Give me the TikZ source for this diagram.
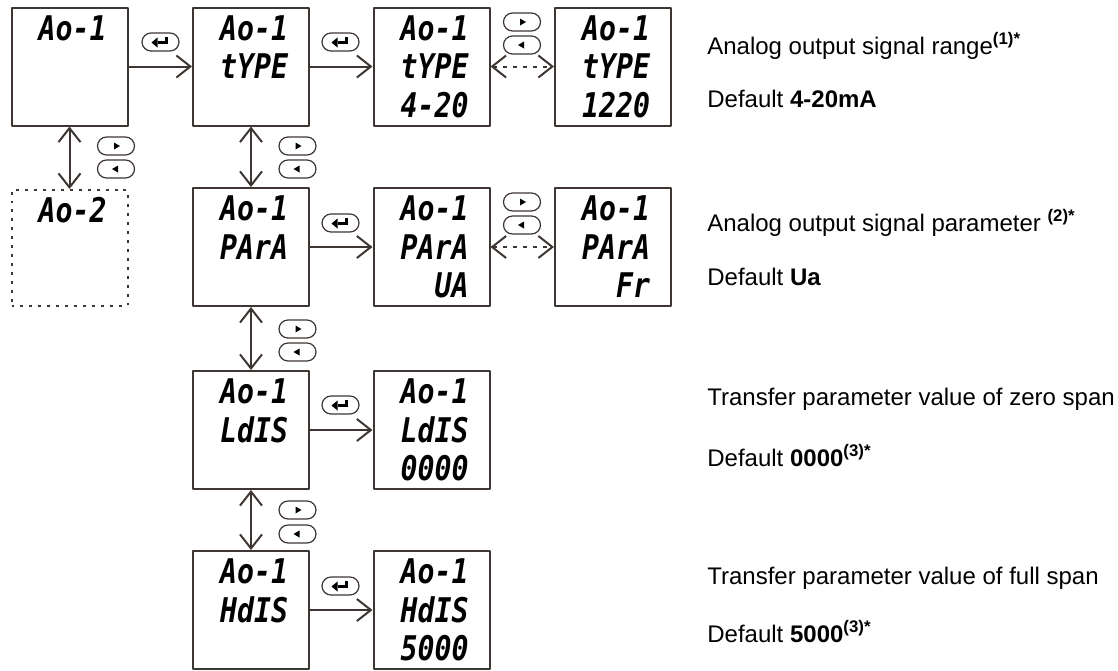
\documentclass[tikz,border=0pt]{standalone}
\usepackage{fontspec}
\setmainfont{Liberation Sans}
\newfontfamily\lcdfont{DejaVu Sans Mono}[FakeStretch=0.83]
\usetikzlibrary{arrows.meta,shapes.misc}
\newdimen\pxu \pxu=0.2mm
\definecolor{frame}{RGB}{62,54,50}
\newcommand\lcd[1]{\parbox[c][118\pxu][t]{74\pxu}{\raggedleft\lcdfont\bfseries\itshape\fontsize{19.35}{21.9}\selectfont\vspace*{8\pxu}#1}}
\begin{document}
\begin{tikzpicture}[x=0.2mm,y=-0.2mm,line join=round,
 >={Straight Barb[length=2.8mm,width=4.4mm]},
 lcdbox/.style={draw=frame,line width=0.4mm,inner xsep=21\pxu,inner ysep=0pt},
 conn/.style={draw=frame,line width=0.4mm},
 keybox/.style={rounded rectangle,draw=frame,line width=1.2\pxu,minimum width=37\pxu,minimum height=18\pxu,inner sep=0pt},
 rkey/.style={keybox,path picture={\fill ([shift={(-2,-3.5)}]path picture bounding box.center) -- ++(6,3.5) -- ++(-6,3.5) -- cycle;}},
 lkey/.style={keybox,path picture={\fill ([shift={(2,-3.5)}]path picture bounding box.center) -- ++(-6,3.5) -- ++(6,3.5) -- cycle;}},
 enterkey/.style={keybox,path picture={\coordinate (pc) at (path picture bounding box.center);
  \fill ([shift={(-9,0.5)}]pc) -- ([shift={(-3,-4.5)}]pc) -- ([shift={(-3,5.5)}]pc) -- cycle;
  \fill ([shift={(-3,-1)}]pc) rectangle ([shift={(7.5,2)}]pc);
  \fill ([shift={(4.5,-5)}]pc) rectangle ([shift={(7.5,2)}]pc);}},
 desc/.style={anchor=base west,inner sep=0pt,font=\fontsize{13.66}{16}\selectfont}]
 \useasboundingbox (0,0) rectangle (1118,670);
 \node[lcdbox] (b11) at (69.5,66.5) {\lcd{Ao-1}};
 \node[lcdbox] (b12) at (251,66.5) {\lcd{Ao-1\\tYPE}};
 \node[lcdbox] (b13) at (431.5,66.5) {\lcd{Ao-1\\tYPE\\4-20}};
 \node[lcdbox] (b14) at (613,66.5) {\lcd{Ao-1\\tYPE\\1220}};
 \node[lcdbox,dash pattern=on 1.7pt off 3.4pt,inner ysep=-1\pxu] (b21) at (69.5,248) {\lcd{Ao-2}};
 \node[lcdbox] (b22) at (251,247) {\lcd{Ao-1\\PArA}};
 \node[lcdbox] (b23) at (431.5,247) {\lcd{Ao-1\\PArA\\UA}};
 \node[lcdbox] (b24) at (613,247) {\lcd{Ao-1\\PArA\\Fr}};
 \node[lcdbox] (b32) at (251,430) {\lcd{Ao-1\\LdIS}};
 \node[lcdbox] (b33) at (431.5,430) {\lcd{Ao-1\\LdIS\\0000}};
 \node[lcdbox] (b42) at (251,610) {\lcd{Ao-1\\HdIS}};
 \node[lcdbox] (b43) at (431.5,610) {\lcd{Ao-1\\HdIS\\5000}};
 \draw[conn,->] (b11) -- (b12);
 \draw[conn,->] (b12) -- (b13);
 \draw[conn,<->,dash pattern=on 4\pxu off 6\pxu] (b13) -- (b14);
 \draw[conn,<->] (b11) -- (b21);
 \draw[conn,<->] (b12) -- (b22);
 \draw[conn,->] (b22) -- (b23);
 \draw[conn,<->,dash pattern=on 4\pxu off 6\pxu] (b23) -- (b24);
 \draw[conn,<->] (b22) -- (b32);
 \draw[conn,->] (b32) -- (b33);
 \draw[conn,<->] (b32) -- (b42);
 \draw[conn,->] (b42) -- (b43);
 \node[enterkey] (e1) at (160.5,42) {};
 \node[enterkey] (e2) at (340.5,42) {};
 \node[enterkey] (e3) at (340.5,223) {};
 \node[enterkey] (e4) at (340.5,405) {};
 \node[enterkey] (e5) at (340.5,586) {};
 \node[rkey] (r1) at (522,22) {};
 \node[lkey] (l1) at (522,45) {};
 \node[rkey] (r2) at (522,202) {};
 \node[lkey] (l2) at (522,225) {};
 \node[rkey] (r3) at (116,146) {};
 \node[lkey] (l3) at (116,169) {};
 \node[rkey] (r4) at (297.5,146) {};
 \node[lkey] (l4) at (297.5,169) {};
 \node[rkey] (r5) at (297.5,329) {};
 \node[lkey] (l5) at (297.5,352) {};
 \node[rkey] (r6) at (297.5,510) {};
 \node[lkey] (l6) at (297.5,534) {};
 \node[desc] (t1) at (707,54) {Analog output signal range\textsuperscript{\textbf{(1)*}}};
 \node[desc] (v1) at (707,107) {Default \textbf{4-20mA}};
 \node[desc] (t2) at (707,231) {Analog output signal parameter \textsuperscript{\textbf{(2)*}}};
 \node[desc] (v2) at (707,285) {Default \textbf{Ua}};
 \node[desc] (t3) at (707,405) {Transfer parameter value of zero span};
 \node[desc] (v3) at (707,466) {Default \textbf{0000}\textsuperscript{\textbf{(3)*}}};
 \node[desc] (t4) at (707,584) {Transfer parameter value of full span};
 \node[desc] (v4) at (707,642) {Default \textbf{5000}\textsuperscript{\textbf{(3)*}}};
\end{tikzpicture}
\end{document}
